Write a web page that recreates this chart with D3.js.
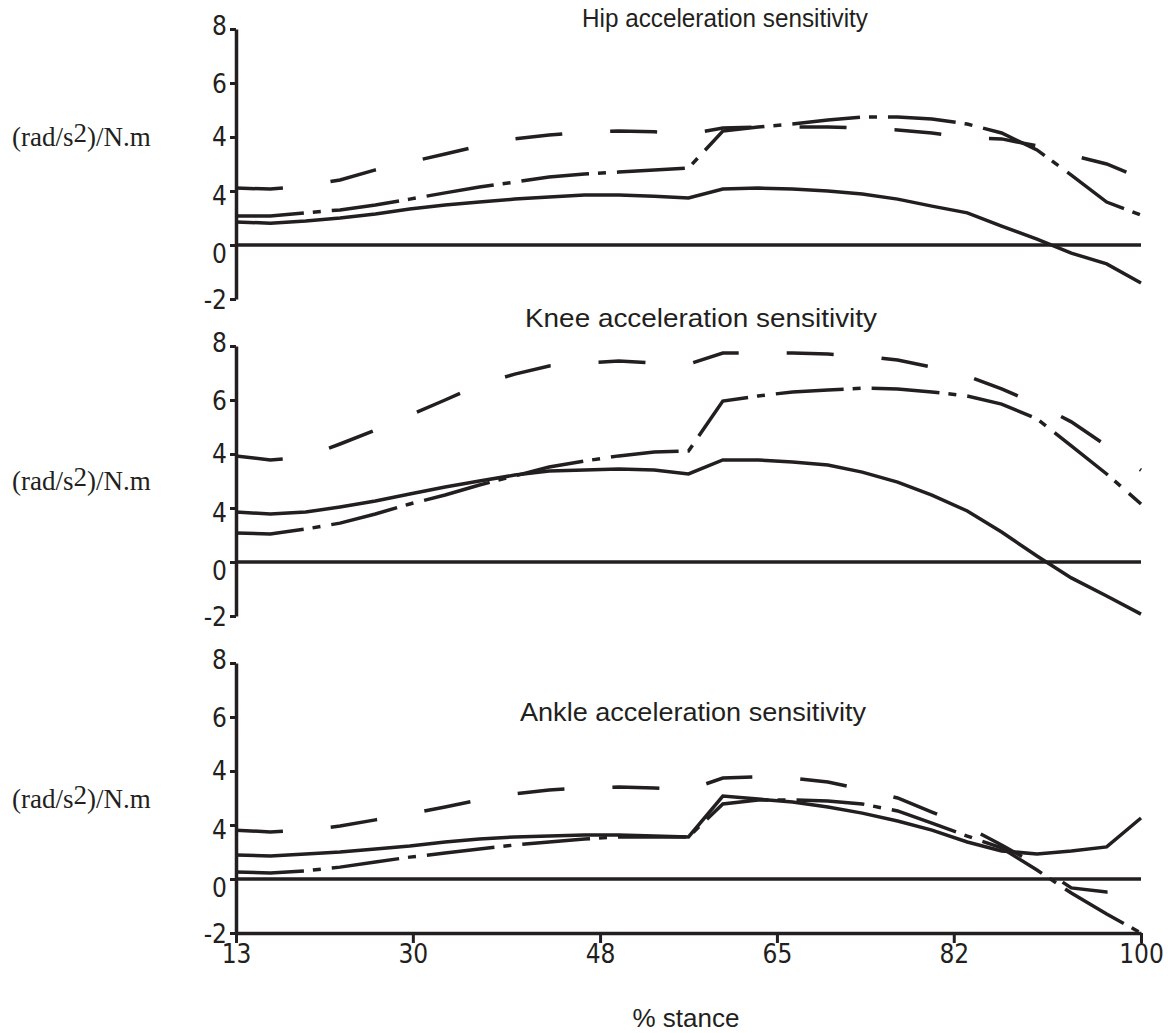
<!DOCTYPE html>
<html>
<head>
<meta charset="utf-8">
<script src="https://cdn.jsdelivr.net/npm/d3@7"></script>
<style>
  body { margin: 0; background: #fff; }
  .tick text { font-family: "DejaVu Sans Condensed", "Liberation Sans", Arial, sans-serif; font-stretch: condensed; }
</style>
</head>
<body>
<svg></svg>
<script>
// % stance sample points
const stance = [13, 16.3, 19.7, 23.0, 26.4, 29.7, 33.1, 36.4, 39.8, 43.1, 46.5, 49.8, 53.2, 56.5,
    59.8, 63.2, 66.5, 69.9, 73.2, 76.6, 79.9, 83.3, 86.6, 90.0, 93.3, 96.7, 100];

const xTickValues = [13, 30, 48, 65, 82, 100];
const yTickValues = [8, 6, 4, 2, 0, -2];
const yTickLabels = ['8', '6', '4', '4', '0', '-2'];   // as printed in the figure

const hipSolid = [0.85, 0.81, 0.89, 1.0, 1.15, 1.33, 1.48, 1.59, 1.70, 1.78, 1.85, 1.85, 1.81, 1.74,
    2.07, 2.11, 2.07, 2.0, 1.89, 1.70, 1.44, 1.19, 0.70, 0.22, -0.30, -0.70, -1.41];
const hipDashDot = [1.07, 1.07, 1.19, 1.30, 1.48, 1.70, 1.93, 2.15, 2.33, 2.52, 2.63, 2.70, 2.78, 2.85,
    4.22, 4.37, 4.48, 4.63, 4.74, 4.74, 4.67, 4.48, 4.15, 3.52, 2.59, 1.59, 1.11];
const hipDashed = [2.11, 2.07, 2.19, 2.41, 2.78, 3.07, 3.37, 3.67, 3.93, 4.07, 4.19, 4.22, 4.19, 4.11,
    4.33, 4.37, 4.37, 4.37, 4.33, 4.26, 4.15, 3.96, 3.93, 3.67, 3.33, 3.0, 2.48];

const kneeSolid = [1.85, 1.78, 1.85, 2.04, 2.26, 2.52, 2.78, 3.0, 3.22, 3.37, 3.41, 3.44, 3.41, 3.26,
    3.78, 3.78, 3.70, 3.59, 3.33, 2.96, 2.48, 1.89, 1.11, 0.22, -0.59, -1.26, -1.93];
const kneeDashDot = [1.07, 1.04, 1.22, 1.44, 1.78, 2.15, 2.48, 2.85, 3.19, 3.52, 3.74, 3.93, 4.07, 4.11,
    5.96, 6.15, 6.30, 6.37, 6.44, 6.41, 6.30, 6.15, 5.85, 5.30, 4.30, 3.26, 2.15];
const kneeDashed = [3.93, 3.78, 3.89, 4.37, 4.89, 5.44, 6.0, 6.56, 6.96, 7.26, 7.37, 7.44, 7.37, 7.33,
    7.74, 7.74, 7.74, 7.70, 7.63, 7.48, 7.22, 6.89, 6.41, 5.85, 5.19, 4.30, 3.40];

const ankleSolid = [0.89, 0.85, 0.93, 1.0, 1.11, 1.22, 1.37, 1.48, 1.56, 1.59, 1.63, 1.63, 1.59, 1.56,
    3.07, 2.96, 2.85, 2.67, 2.44, 2.15, 1.81, 1.37, 1.04, 0.93, 1.04, 1.19, 2.26];
const ankleDashDot = [0.26, 0.22, 0.30, 0.44, 0.63, 0.81, 0.96, 1.11, 1.26, 1.37, 1.48, 1.56, 1.56, 1.56,
    2.78, 2.93, 2.93, 2.89, 2.78, 2.52, 2.07, 1.59, 1.15, 0.33, -0.52, -1.30, -2.0];
const ankleDashed = [1.81, 1.74, 1.81, 1.96, 2.19, 2.41, 2.67, 2.93, 3.15, 3.30, 3.37, 3.41, 3.37, 3.30,
    3.74, 3.78, 3.74, 3.59, 3.33, 3.0, 2.48, 1.93, 1.26, 0.52, -0.33, -0.48, -0.41];

const width = 1168;
const height = 1033;
const left = 236;
const right = 1141;
const panelHeight = 270;
const ink = '#231f20';

const panels = [
    { title: 'Hip acceleration sensitivity', solid: hipSolid, dashDot: hipDashDot, dashed: hipDashed,
      top: 29, titleX: 725, titleY: 27, titleWidth: 286, unitY: 146 },
    { title: 'Knee acceleration sensitivity', solid: kneeSolid, dashDot: kneeDashDot, dashed: kneeDashed,
      top: 346, titleX: 701, titleY: 327, titleWidth: 352, unitY: 490 },
    { title: 'Ankle acceleration sensitivity', solid: ankleSolid, dashDot: ankleDashDot, dashed: ankleDashed,
      top: 663, titleX: 693, titleY: 721, titleWidth: 346, unitY: 808 }
];

// small vertical nudges of the printed tick labels
const labelNudge = [-3, 1, 0, 5, 9, 1];

const svg = d3.select('svg')
    .attr('width', width)
    .attr('height', height);

const xScale = d3.scaleLinear()
    .domain([13, 100])
    .range([left, right]);

panels.forEach((p, pi) => {
    const yScale = d3.scaleLinear()
        .domain([-2, 8])
        .range([p.top + panelHeight, p.top]);

    const g = svg.append('g').attr('class', 'panel');

    // zero line
    g.append('line')
        .attr('x1', xScale(13))
        .attr('x2', xScale(100))
        .attr('y1', yScale(0))
        .attr('y2', yScale(0))
        .attr('stroke', ink)
        .attr('stroke-width', 3.5);

    const yAxis = d3.axisLeft(yScale)
        .tickValues(yTickValues)
        .tickSize(6)
        .tickSizeOuter(0)
        .tickPadding(3)
        .tickFormat((d, i) => yTickLabels[i]);

    const ya = g.append('g')
        .attr('transform', 'translate(' + left + ',0)')
        .call(yAxis);
    ya.select('.domain').attr('stroke', ink).attr('stroke-width', 3.5);
    ya.selectAll('.tick line').attr('stroke', ink).attr('stroke-width', 3);
    ya.selectAll('.tick text')
        .attr('fill', ink)
        .style('font-size', '26px')
        .attr('dy', (d, i) => (0.32 * 26 + labelNudge[i]) + 'px');

    const line = d3.line()
        .x((d, i) => xScale(stance[i]))
        .y(d => yScale(d));

    const series = [
        { values: p.solid, dash: null },
        { values: p.dashDot, dash: '68,9,8,11' },
        { values: p.dashed, dash: '47,48' }
    ];

    g.selectAll('path.series')
        .data(series)
        .enter()
        .append('path')
        .attr('class', 'series')
        .attr('d', d => line(d.values))
        .attr('fill', 'none')
        .attr('stroke', ink)
        .attr('stroke-width', 3.5)
        .attr('stroke-linejoin', 'miter')
        .attr('stroke-dasharray', d => d.dash);

    g.append('text')
        .attr('x', p.titleX)
        .attr('y', p.titleY)
        .attr('text-anchor', 'middle')
        .attr('textLength', p.titleWidth)
        .attr('lengthAdjust', 'spacingAndGlyphs')
        .style('font-family', '"Liberation Sans", Arial, sans-serif')
        .style('font-size', '26px')
        .attr('fill', ink)
        .text(p.title);

    const unit = g.append('text')
        .attr('x', 12)
        .attr('y', p.unitY)
        .style('font-family', '"Liberation Serif", "Times New Roman", serif')
        .style('font-size', '27px')
        .attr('fill', ink);
    unit.append('tspan').text('(rad/s');
    unit.append('tspan').attr('dy', -4).text('2');
    unit.append('tspan').attr('dy', 4).text(')/N.m');

    if (pi === panels.length - 1) {
        const xAxis = d3.axisBottom(xScale)
            .tickValues(xTickValues)
            .tickSize(10)
            .tickSizeOuter(0)
            .tickPadding(2)
            .tickFormat(d3.format('d'));
        const xa = g.append('g')
            .attr('transform', 'translate(0,' + yScale(-2) + ')')
            .call(xAxis);
        xa.select('.domain').attr('stroke', ink).attr('stroke-width', 3.5);
        xa.selectAll('.tick line').attr('stroke', ink).attr('stroke-width', 3);
        xa.selectAll('.tick text').attr('fill', ink).style('font-size', '26px');
    }
});

svg.append('text')
    .attr('x', 686)
    .attr('y', 1027)
    .attr('text-anchor', 'middle')
    .style('font-family', '"Liberation Sans", Arial, sans-serif')
    .style('font-size', '26px')
    .attr('fill', ink)
    .text('% stance');
</script>
</body>
</html>
